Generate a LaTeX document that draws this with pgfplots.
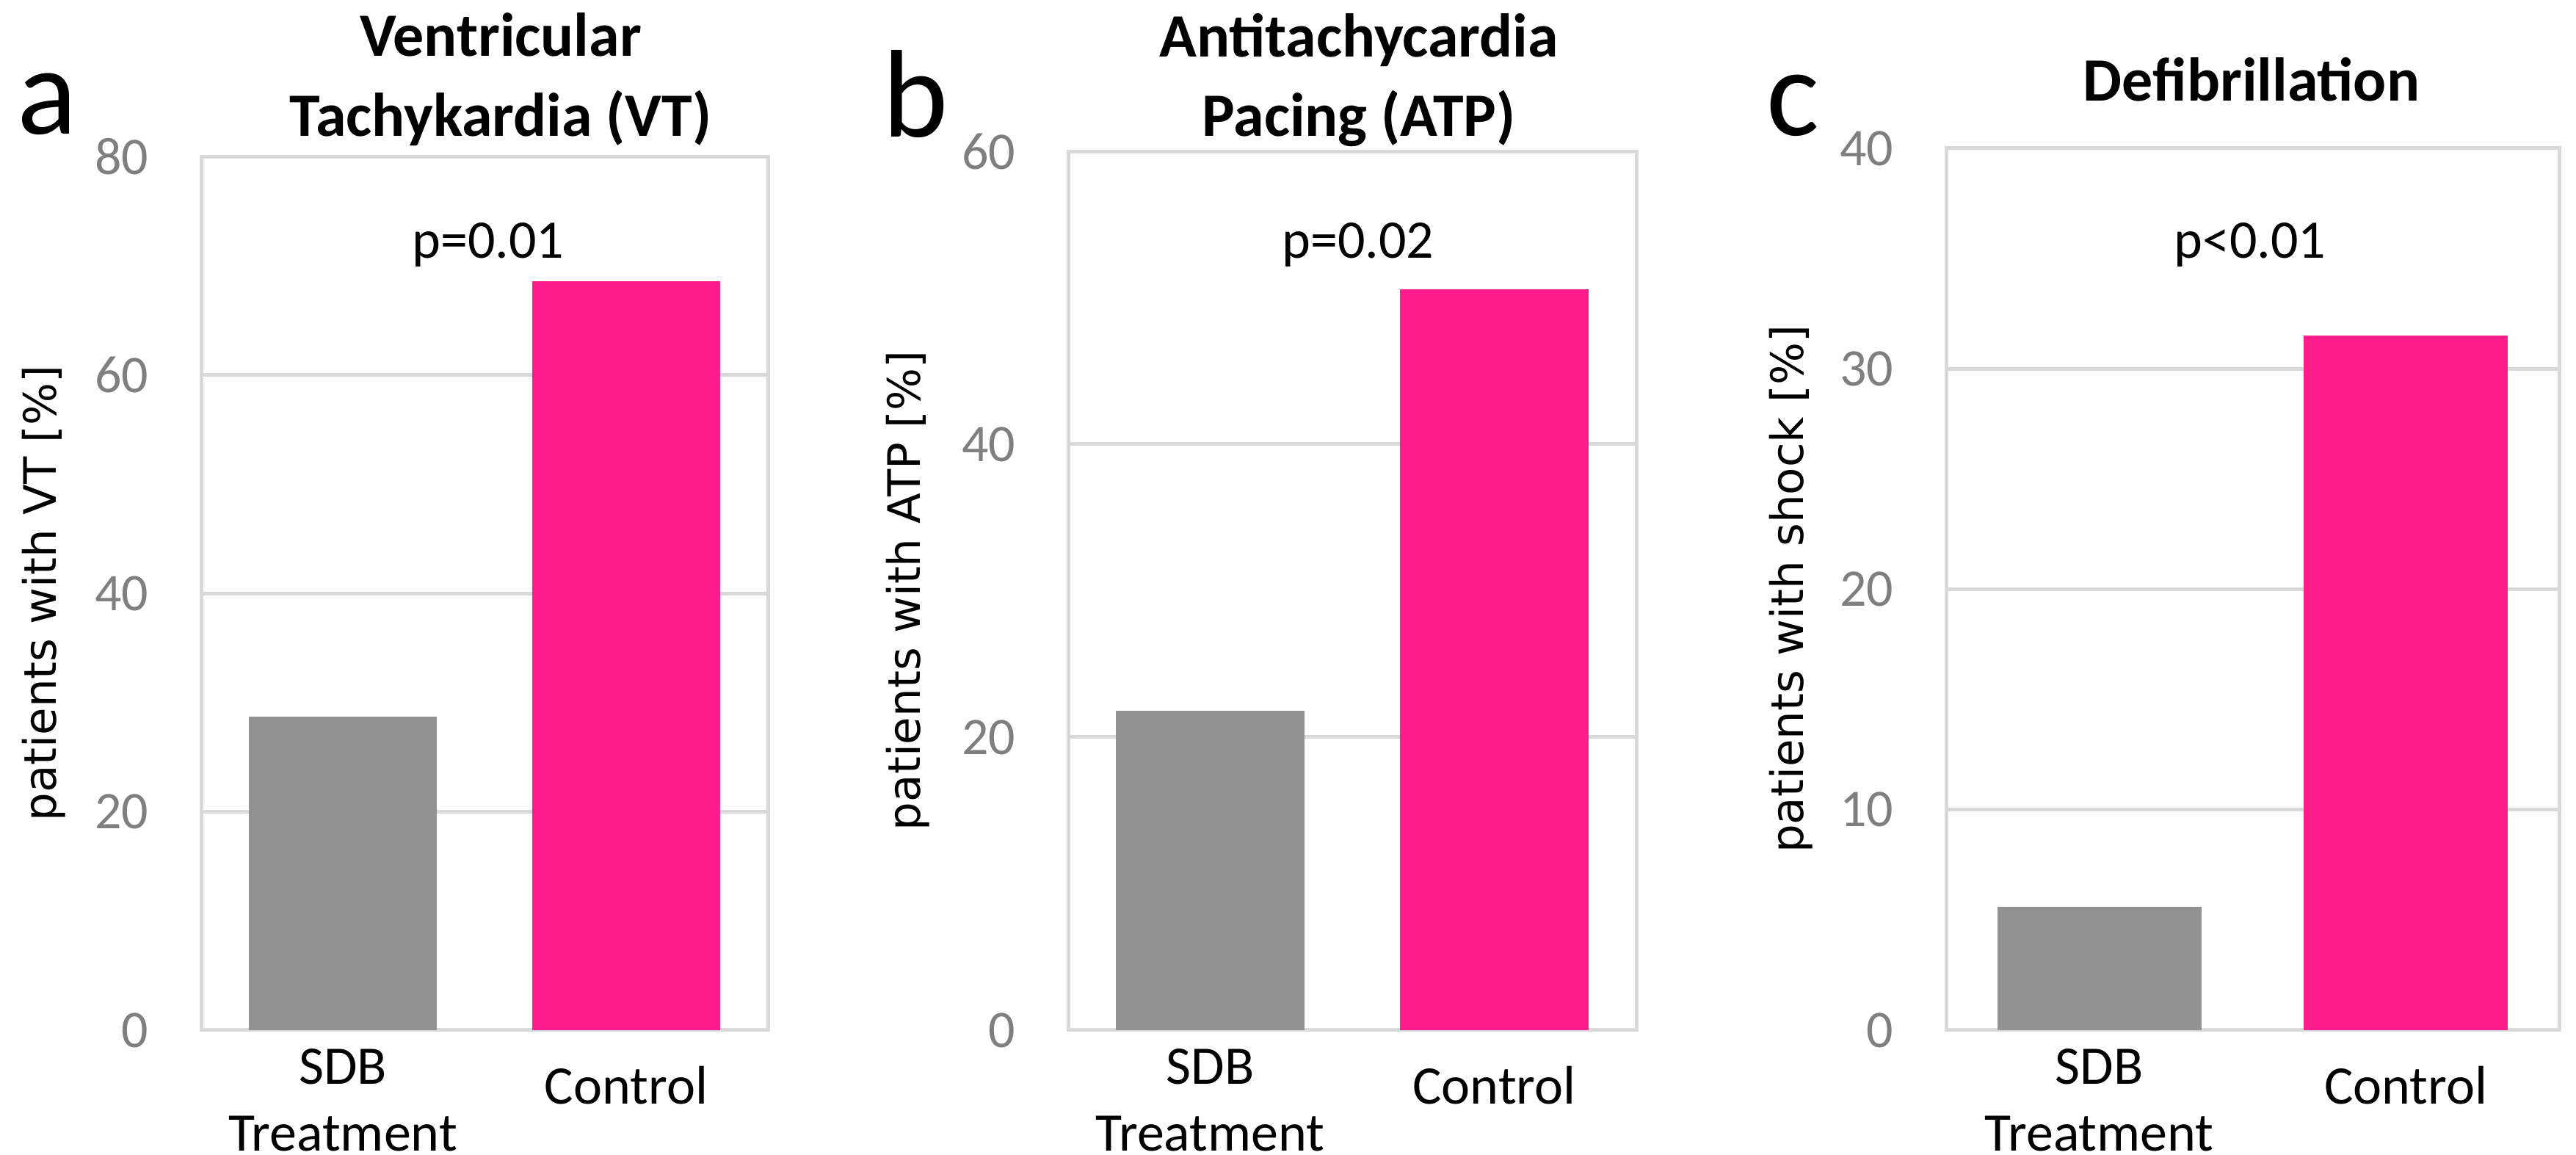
\documentclass[border=0pt]{standalone}
\usepackage{fontspec}
\setmainfont{Carlito}
\newfontfamily\dejavu{DejaVu Sans}
\usepackage{pgfplots}
\pgfplotsset{compat=1.18}
\definecolor{barg}{HTML}{929292}
\definecolor{barp}{HTML}{FF1C8C}
\definecolor{gridc}{HTML}{D9D9D9}
\definecolor{tickc}{HTML}{7F7F7F}
\pgfplotsset{panel/.style={
  scale only axis, anchor=south west,
  xmin=-0.5, xmax=1.5, ymin=0,
  xtick={0,1},
  xticklabels={{SDB\\Treatment},{\raisebox{-2.4pt}[\height][\depth]{Control}}},
  xtick style={draw=none}, ytick style={draw=none},
  ymajorgrids, grid style={gridc, line width=0.5pt},
  axis line style={gridc, line width=0.5pt},
  xticklabel style={font=\fontsize{7.4}{9.1}\selectfont, align=center, anchor=north, inner sep=0pt, yshift=-2.3pt},
  yticklabel style={font=\fontsize{7.2}{8}\selectfont, text=tickc, anchor=east, inner sep=0pt, xshift=-7pt},
  /pgf/number format/assume math mode=true,
  every axis y label/.style={rotate=90, anchor=center, inner sep=0pt, font=\dejavu\fontsize{6.1}{7}\selectfont},
}}
\pgfplotsset{sdb/.style={ybar, bar width=0.665, bar shift=0pt, fill=barg, draw=none},
             ctl/.style={ybar, bar width=0.665, bar shift=0pt, fill=barp, draw=none}}
\begin{document}
\begin{tikzpicture}
\useasboundingbox (0,0) rectangle (350.9pt,157.3pt);
% panel a
\begin{axis}[panel, at={(27.4pt,17.0pt)}, width=77.2pt, height=119.0pt,
  ymax=80, ytick={0,20,40,60,80},
  ylabel={patients with VT [\%]}, ylabel style={at={(axis description cs:-0.277,0.5)}}]
\addplot[sdb] coordinates {(0,28.7)};
\addplot[ctl] coordinates {(1,68.6)};
\end{axis}
% panel b
\begin{axis}[panel, at={(145.5pt,17.0pt)}, width=77.4pt, height=119.7pt,
  ymax=60, ytick={0,20,40,60},
  ylabel={patients with ATP [\%]}, ylabel style={at={(axis description cs:-0.282,0.5)}}]
\addplot[sdb] coordinates {(0,21.8)};
\addplot[ctl] coordinates {(1,50.6)};
\end{axis}
% panel c
\begin{axis}[panel, at={(265.1pt,17.0pt)}, width=83.5pt, height=120.1pt,
  ymax=40, ytick={0,10,20,30,40},
  ylabel={patients with shock [\%]}, ylabel style={at={(axis description cs:-0.253,0.5)}}]
\addplot[sdb] coordinates {(0,5.6)};
\addplot[ctl] coordinates {(1,31.5)};
\end{axis}
% panel letters
\node[anchor=base west, inner sep=0pt, font=\fontsize{17}{20}\selectfont] at (2.2pt,139.0pt) {a};
\node[anchor=base west, inner sep=0pt, font=\fontsize{17}{20}\selectfont] at (120.0pt,138.6pt) {b};
\node[anchor=base west, inner sep=0pt, font=\fontsize{17}{20}\selectfont] at (240.4pt,138.8pt) {c};
% titles
\begin{scope}[every node/.style={anchor=base, inner sep=0pt, font=\bfseries\fontsize{8.4}{10}\selectfont}]
\node at (68.2pt,149.6pt) {Ventricular};
\node at (68.2pt,138.7pt) {Tachykardia (VT)};
\node at (185.1pt,149.5pt) {Antitachycardia};
\node at (185.1pt,138.7pt) {Pacing (ATP)};
\node at (306.7pt,143.5pt) {Defibrillation};
\end{scope}
% p values
\begin{scope}[every node/.style={anchor=base, inner sep=0pt, font=\fontsize{7.4}{9}\selectfont}]
\node at (66.5pt,122.1pt) {p=0.01};
\node at (185.0pt,122.1pt) {p=0.02};
\node at (306.5pt,122.1pt) {p<0.01};
\end{scope}
\end{tikzpicture}
\end{document}
